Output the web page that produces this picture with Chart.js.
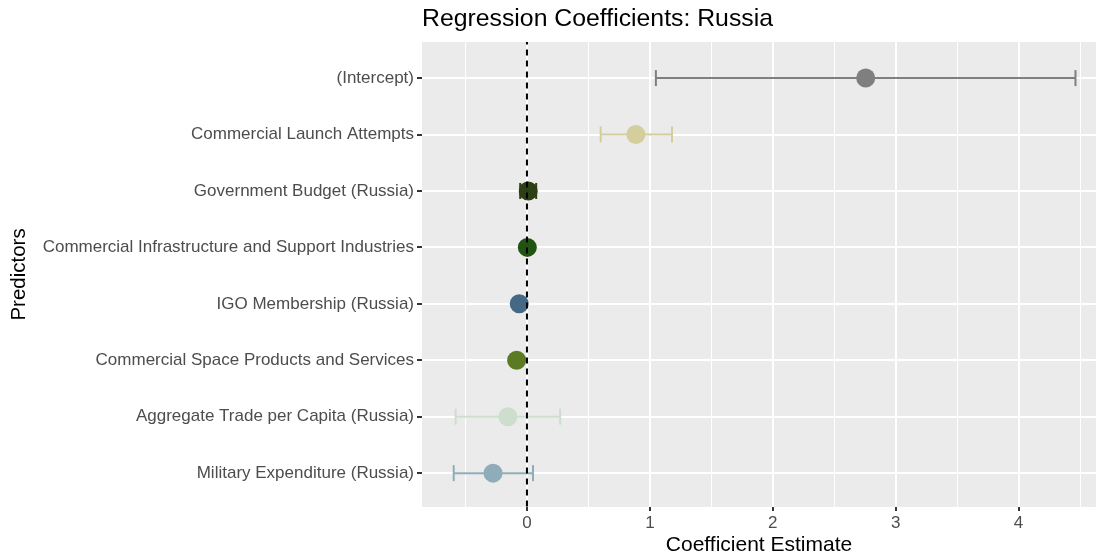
<!DOCTYPE html>
<html>
<head>
<meta charset="utf-8">
<script src="https://cdn.jsdelivr.net/npm/chart.js@4"></script>
<style>
  html, body { margin: 0; padding: 0; background: #fff; }
  #wrap { width: 1096px; height: 559px; }
</style>
</head>
<body>
<div id="wrap"><canvas id="chart" width="1096" height="559"></canvas></div>
<script>
// ── Data (top row first) ──
const predictors = [
    '(Intercept)',
    'Commercial Launch Attempts',
    'Government Budget (Russia)',
    'Commercial Infrastructure and Support Industries',
    'IGO Membership (Russia)',
    'Commercial Space Products and Services',
    'Aggregate Trade per Capita (Russia)',
    'Military Expenditure (Russia)'
];
const estimates = [2.756, 0.886, 0.01, 0.003, -0.063, -0.084, -0.155, -0.276];
const lowerCI   = [1.049, 0.60, -0.055, -0.015, -0.075, -0.095, -0.58, -0.596];
const upperCI   = [4.463, 1.18, 0.075, 0.02, -0.05, -0.07, 0.27, 0.049];
const colors    = ['#7f7f7f', '#d3ce9b', '#2c3f17', '#215412', '#456985', '#5b7b22', '#cddecf', '#8eacb9'];
const xTicks    = [-0.5, 0, 0.5, 1, 1.5, 2, 2.5, 3, 3.5, 4, 4.5];

const FONT = "'Liberation Sans', Arial, sans-serif";

// ── Error bars: one line dataset per predictor ──
const errorSets = predictors.map((p, i) => ({
    type: 'line',
    data: [{ x: lowerCI[i], y: i }, { x: upperCI[i], y: i }],
    borderColor: colors[i],
    borderWidth: 2,
    pointStyle: 'line',
    rotation: 90,
    pointRadius: 8,
    pointBorderWidth: 2,
    pointBorderColor: colors[i],
    order: 3,
}));

const pointSet = {
    type: 'scatter',
    data: estimates.map((v, i) => ({ x: v, y: i })),
    backgroundColor: colors,
    borderColor: colors,
    pointRadius: 9.5,
    borderWidth: 0,
    order: 2,
};

const zeroLine = {
    type: 'line',
    data: [{ x: 0, y: -0.7 }, { x: 0, y: 7.7 }],
    borderColor: '#000',
    borderWidth: 2,
    borderDash: [6, 5],
    pointRadius: 0,
    order: 1,
};

// ── Panel background ──
const panelBg = {
    id: 'panelBg',
    beforeDraw(chart) {
        const { ctx, chartArea: a } = chart;
        ctx.save();
        ctx.fillStyle = '#ebebeb';
        ctx.fillRect(a.left, a.top, a.right - a.left, a.bottom - a.top);
        ctx.restore();
    }
};

new Chart(document.getElementById('chart'), {
    data: { datasets: [...errorSets, pointSet, zeroLine] },
    plugins: [panelBg],
    options: {
        responsive: false,
        animation: false,
        layout: { padding: 0, autoPadding: false },
        plugins: {
            legend: { display: false },
            tooltip: { enabled: false },
            title: {
                display: true,
                text: 'Regression Coefficients: Russia',
                align: 'start',
                fullSize: false,
                color: '#000',
                font: { family: FONT, size: 24.8, weight: 'normal', lineHeight: 1.2 },
                padding: { top: 4, bottom: 8.2 },
            }
        },
        scales: {
            x: {
                type: 'linear',
                min: -0.854,
                max: 4.63,
                afterBuildTicks: s => { s.ticks = xTicks.map(v => ({ value: v })); },
                afterFit: s => { s.height = 52; s.paddingLeft = 0; s.paddingRight = 0; },
                border: { display: false },
                grid: {
                    color: '#ffffff',
                    lineWidth: c => (Number.isInteger(c.tick.value) ? 2 : 1),
                    tickColor: c => (Number.isInteger(c.tick.value) ? '#333333' : 'rgba(0,0,0,0)'),
                    tickLength: 4,
                    tickWidth: 2,
                },
                ticks: {
                    color: '#4d4d4d',
                    font: { family: FONT, size: 17 },
                    padding: 2,
                    maxRotation: 0,
                    autoSkip: false,
                    callback: v => (Number.isInteger(v) ? String(v) : ''),
                },
                title: {
                    display: true,
                    text: 'Coefficient Estimate',
                    color: '#000',
                    font: { family: FONT, size: 21 },
                    padding: { top: 0, bottom: 1 },
                }
            },
            y: {
                type: 'linear',
                min: -0.64,
                max: 7.6,
                reverse: true,
                afterBuildTicks: s => { s.ticks = predictors.map((p, i) => ({ value: i })); },
                afterFit: s => { s.width = 422; s.paddingTop = 0; s.paddingBottom = 0; },
                border: { display: false },
                grid: {
                    color: '#ffffff',
                    lineWidth: 2,
                    tickColor: '#333333',
                    tickLength: 5,
                    tickWidth: 2,
                },
                ticks: {
                    color: '#4d4d4d',
                    font: { family: FONT, size: 17 },
                    padding: 3,
                    autoSkip: false,
                    callback: v => predictors[v] || '',
                },
                title: {
                    display: true,
                    text: 'Predictors',
                    color: '#000',
                    font: { family: FONT, size: 20.5 },
                    padding: { top: 7, bottom: 0 },
                }
            }
        }
    }
});
</script>
</body>
</html>
